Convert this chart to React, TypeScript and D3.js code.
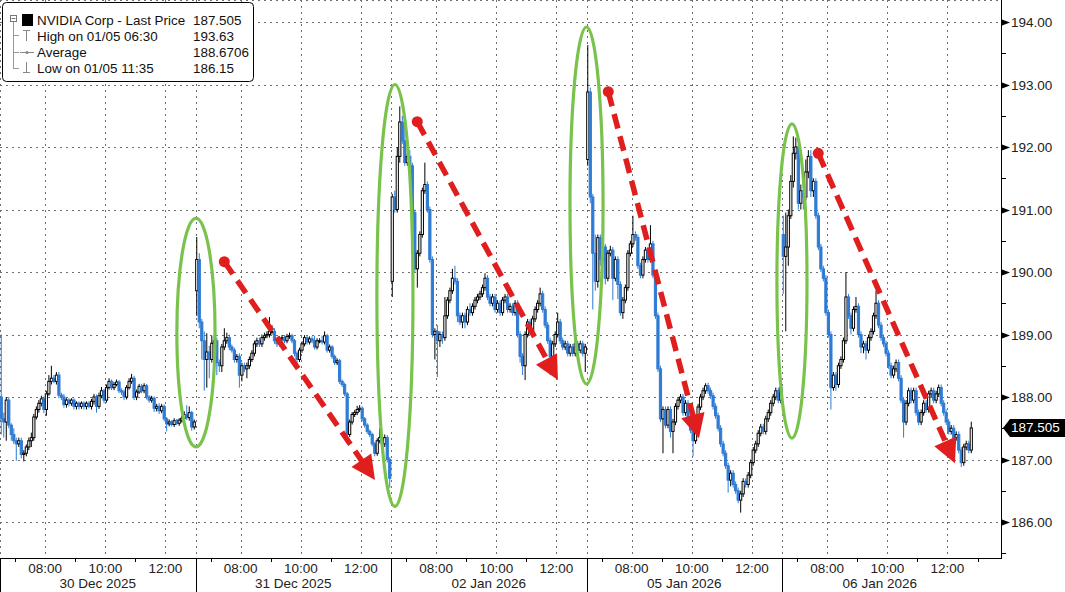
import React from "react";
import * as d3 from "d3";

// ---------- data ----------
const dayLabels = ["30 Dec 2025", "31 Dec 2025", "02 Jan 2026", "05 Jan 2026", "06 Jan 2026"];
const hourLabels = ["08:00", "10:00", "12:00"];
const hourOffsets = [1.5, 3.5, 5.5]; // hours after 06:30 open
const minorTickOffsets = [0.5, 2.5, 4.5];
const yTicks = [186, 187, 188, 189, 190, 191, 192, 193, 194];
const yMinorTicks = [185.5, 186.5, 187.5, 188.5, 189.5, 190.5, 191.5, 192.5, 193.5];
const sessionHours = 6.5;
const dayOpens = [188.0, 189.7, 189.85, 191.8, 190.6];

// 5-minute bars: [close, upper wick, lower wick]
const dec30: [number, number, number][] = [
  [187.65, 1.0, 0.25], [187.6, 0.1, 0.25], [187.95, 0.05, 0.3], [187.55, 0.05, 0.05], [187.4, 0.03, 0.1],
  [187.3, 0.1, 0.05], [187.25, 0.05, 0.27], [187.3, 0.05, 0.05], [187.08, 0.05, 0.06], [187.1, 0.05, 0.11],
  [187.2, 0.04, 0.05], [187.3, 0.05, 0.05], [187.35, 0.08, 0.1], [187.68, 0.05, 0.05], [187.8, 0.05, 0.04],
  [187.9, 0.05, 0.05], [187.97, 0.05, 0.05], [187.8, 0.04, 0.06], [188.05, 0.05, 0.1], [188.25, 0.1, 0.03],
  [188.3, 0.2, 0.05], [188.25, 0.05, 0.03], [188.35, 0.05, 0.05], [188.03, 0.05, 0.05], [188.0, 0.04, 0.05],
  [187.88, 0.05, 0.05], [187.95, 0.03, 0.05], [187.9, 0.03, 0.05], [187.95, 0.03, 0.04], [187.85, 0.03, 0.05],
  [187.9, 0.03, 0.05], [187.85, 0.03, 0.05], [187.9, 0.03, 0.04], [187.85, 0.03, 0.05], [187.9, 0.03, 0.05],
  [187.85, 0.03, 0.03], [187.93, 0.04, 0.05], [188.0, 0.05, 0.05], [187.85, 0.04, 0.1], [188.02, 0.05, 0.04],
  [188.1, 0.06, 0.04], [187.95, 0.03, 0.05], [188.15, 0.05, 0.04], [188.25, 0.05, 0.03], [188.15, 0.03, 0.04],
  [188.2, 0.04, 0.04], [188.24, 0.04, 0.03], [188.1, 0.03, 0.04], [188.08, 0.04, 0.05], [188.0, 0.04, 0.05],
  [188.15, 0.04, 0.04], [188.25, 0.05, 0.03], [188.3, 0.07, 0.04], [188.0, 0.04, 0.05], [188.08, 0.04, 0.05],
  [188.17, 0.04, 0.03], [188.1, 0.04, 0.04], [188.18, 0.04, 0.04], [188.0, 0.03, 0.04], [187.95, 0.03, 0.04],
  [187.98, 0.04, 0.04], [187.82, 0.03, 0.06], [187.85, 0.04, 0.05], [187.78, 0.05, 0.05], [187.85, 0.04, 0.04],
  [187.65, 0.03, 0.04], [187.57, 0.03, 0.12], [187.6, 0.04, 0.04], [187.56, 0.03, 0.03], [187.62, 0.04, 0.04],
  [187.58, 0.03, 0.03], [187.63, 0.03, 0.04], [187.66, 0.04, 0.04], [187.72, 0.05, 0.04], [187.67, 0.15, 0.04],
  [187.75, 0.1, 0.05], [187.52, 0.03, 0.06], [187.6, 0.04, 0.04],
];
const dec31: [number, number, number][] = [
  [190.2, 0.36, 0.4], [189.2, 0.1, 0.1], [188.9, 0.05, 0.3], [188.6, 0.15, 0.5], [188.72, 0.3, 0.45],
  [188.6, 0.1, 0.3], [188.86, 0.12, 0.05], [188.9, 0.1, 0.1], [188.55, 0.05, 0.2], [188.5, 0.05, 0.1],
  [188.8, 0.05, 0.1], [188.9, 0.2, 0.05], [188.95, 0.08, 0.05], [188.8, 0.05, 0.05], [188.75, 0.04, 0.04],
  [188.6, 0.04, 0.05], [188.65, 0.04, 0.05], [188.35, 0.05, 0.2], [188.5, 0.05, 0.1], [188.45, 0.05, 0.05],
  [188.5, 0.05, 0.15], [188.6, 0.05, 0.05], [188.7, 0.05, 0.04], [188.85, 0.05, 0.05], [188.9, 0.05, 0.05],
  [188.85, 0.05, 0.05], [188.95, 0.05, 0.05], [188.98, 0.05, 0.05], [189.0, 0.05, 0.04], [189.05, 0.23, 0.05],
  [189.05, 0.1, 0.05], [188.9, 0.05, 0.05], [188.85, 0.04, 0.05], [188.93, 0.04, 0.04], [188.95, 0.04, 0.04],
  [188.9, 0.04, 0.04], [188.97, 0.04, 0.04], [188.98, 0.05, 0.04], [188.9, 0.03, 0.04], [188.7, 0.03, 0.05],
  [188.6, 0.03, 0.1], [188.75, 0.04, 0.04], [188.85, 0.04, 0.04], [188.95, 0.04, 0.04], [188.88, 0.04, 0.04],
  [188.93, 0.04, 0.04], [188.9, 0.04, 0.04], [188.8, 0.08, 0.04], [188.9, 0.04, 0.04], [188.9, 0.04, 0.04],
  [188.88, 0.08, 0.04], [188.98, 0.07, 0.04], [188.75, 0.03, 0.04], [188.8, 0.04, 0.04], [188.65, 0.03, 0.04],
  [188.55, 0.03, 0.04], [188.58, 0.04, 0.04], [188.25, 0.03, 0.04], [188.2, 0.03, 0.04], [188.05, 0.03, 0.04],
  [187.4, 0.03, 0.06], [187.6, 0.04, 0.04], [187.72, 0.04, 0.04], [187.75, 0.04, 0.04], [187.8, 0.06, 0.04],
  [187.82, 0.05, 0.04], [187.65, 0.03, 0.04], [187.55, 0.03, 0.04], [187.45, 0.03, 0.04], [187.4, 0.03, 0.04],
  [187.25, 0.03, 0.04], [187.1, 0.03, 0.05], [187.3, 0.04, 0.04], [187.35, 0.15, 0.04], [187.25, 0.04, 0.04],
  [187.35, 0.05, 0.05], [187.0, 0.04, 0.05], [186.7, 0.04, 0.15],
];
const jan02: [number, number, number][] = [
  [191.2, 0.05, 0.25], [191.0, 0.1, 0.05], [191.85, 0.15, 0.05], [192.4, 0.25, 0.1], [192.1, 0.1, 0.05],
  [191.75, 0.3, 0.05], [191.85, 0.05, 0.05], [191.7, 0.1, 0.05], [190.95, 0.05, 0.05], [190.05, 0.05, 0.05],
  [190.3, 0.05, 0.3], [190.6, 0.05, 0.05], [191.3, 0.05, 0.05], [191.4, 0.35, 0.05], [191.0, 0.05, 0.05],
  [190.2, 0.05, 0.05], [189.0, 0.05, 0.05], [189.05, 0.05, 0.4], [188.9, 0.1, 0.58], [189.0, 0.05, 0.1],
  [188.95, 0.05, 0.1], [189.3, 0.3, 0.05], [189.55, 0.05, 0.05], [189.7, 0.05, 0.05], [189.9, 0.15, 0.05],
  [189.85, 0.2, 0.05], [189.3, 0.05, 0.1], [189.2, 0.05, 0.05], [189.3, 0.05, 0.1], [189.2, 0.05, 0.1],
  [189.4, 0.05, 0.05], [189.35, 0.1, 0.05], [189.45, 0.05, 0.05], [189.55, 0.05, 0.05], [189.6, 0.05, 0.05],
  [189.65, 0.05, 0.05], [189.75, 0.05, 0.05], [189.9, 0.08, 0.05], [189.6, 0.05, 0.05], [189.5, 0.05, 0.05],
  [189.6, 0.05, 0.05], [189.4, 0.05, 0.05], [189.5, 0.05, 0.05], [189.35, 0.05, 0.05], [189.55, 0.05, 0.05],
  [189.6, 0.05, 0.05], [189.4, 0.05, 0.05], [189.45, 0.05, 0.05], [189.35, 0.05, 0.05], [189.5, 0.05, 0.05],
  [189.0, 0.05, 0.05], [188.65, 0.05, 0.1], [188.5, 0.05, 0.15], [189.0, 0.05, 0.23], [189.2, 0.05, 0.05],
  [189.05, 0.05, 0.05], [189.25, 0.05, 0.05], [189.4, 0.05, 0.05], [189.5, 0.05, 0.05], [189.65, 0.1, 0.05],
  [189.4, 0.05, 0.05], [189.15, 0.05, 0.05], [188.9, 0.05, 0.05], [188.65, 0.05, 0.3], [188.85, 0.05, 0.05],
  [189.0, 0.05, 0.05], [189.2, 0.15, 0.05], [188.9, 0.05, 0.05], [188.8, 0.05, 0.05], [188.85, 0.05, 0.05],
  [188.7, 0.05, 0.05], [188.8, 0.05, 0.05], [188.7, 0.05, 0.05], [188.85, 0.05, 0.05], [188.75, 0.05, 0.05],
  [188.85, 0.05, 0.05], [188.7, 0.05, 0.05], [188.8, 0.05, 0.3],
];
const jan05: [number, number, number][] = [
  [192.88, 0.75, 0.1], [191.2, 0.07, 0.1], [190.3, 0.05, 0.9], [189.85, 0.3, 0.15], [190.55, 0.05, 0.1],
  [190.2, 0.05, 0.1], [190.4, 0.1, 0.05], [189.9, 0.05, 0.1], [190.3, 0.05, 0.05], [190.35, 0.07, 0.05],
  [189.9, 0.05, 0.35], [190.2, 0.05, 0.05], [189.8, 0.05, 0.23], [189.35, 0.05, 0.05], [189.55, 0.05, 0.1],
  [189.75, 0.05, 0.05], [190.3, 0.05, 0.05], [190.45, 0.05, 0.05], [190.6, 0.3, 0.05], [190.55, 0.05, 0.05],
  [190.1, 0.05, 0.05], [189.95, 0.05, 0.05], [190.2, 0.05, 0.05], [190.35, 0.05, 0.05], [190.2, 0.05, 0.05],
  [190.45, 0.3, 0.05], [189.95, 0.05, 0.05], [189.3, 0.05, 0.05], [188.45, 0.05, 0.05], [187.65, 0.05, 0.05],
  [187.8, 0.05, 0.55], [187.55, 0.05, 0.05], [187.8, 0.05, 0.05], [187.45, 0.05, 0.1], [187.6, 0.05, 0.35],
  [187.85, 0.05, 0.05], [187.95, 0.05, 0.05], [188.0, 0.05, 0.05], [187.75, 0.05, 0.05], [187.9, 0.05, 0.05],
  [187.65, 0.05, 0.05], [187.47, 0.05, 0.05], [187.3, 0.05, 0.25], [187.6, 0.05, 0.05], [187.84, 0.05, 0.05],
  [188.0, 0.05, 0.05], [188.1, 0.05, 0.05], [188.18, 0.04, 0.05], [188.1, 0.05, 0.05], [188.02, 0.05, 0.05],
  [187.85, 0.05, 0.05], [187.7, 0.05, 0.05], [187.5, 0.05, 0.05], [187.25, 0.05, 0.05], [187.1, 0.05, 0.05],
  [186.9, 0.05, 0.05], [186.67, 0.05, 0.2], [186.78, 0.05, 0.1], [186.6, 0.05, 0.05], [186.5, 0.05, 0.05],
  [186.35, 0.05, 0.05], [186.45, 0.05, 0.2], [186.65, 0.05, 0.05], [186.6, 0.05, 0.05], [186.75, 0.05, 0.05],
  [186.95, 0.05, 0.05], [187.15, 0.05, 0.05], [187.25, 0.05, 0.05], [187.42, 0.05, 0.05], [187.52, 0.05, 0.05],
  [187.45, 0.05, 0.05], [187.65, 0.05, 0.05], [187.75, 0.05, 0.05], [187.9, 0.05, 0.05], [188.0, 0.05, 0.05],
  [188.1, 0.05, 0.05], [187.95, 0.05, 0.05], [188.15, 0.1, 0.05],
];
const jan06: [number, number, number][] = [
  [190.25, 0.3, 0.6], [190.4, 0.55, 1.2], [190.9, 0.1, 0.3], [191.45, 0.1, 0.05], [191.9, 0.27, 0.1],
  [192.0, 0.15, 0.1], [191.1, 0.05, 0.1], [191.3, 0.1, 0.1], [191.2, 0.1, 0.2], [191.6, 0.2, 0.05],
  [191.85, 0.1, 0.1], [191.3, 0.1, 0.1], [191.45, 0.05, 0.1], [190.9, 0.05, 0.05], [190.4, 0.05, 0.05],
  [190.05, 0.05, 0.05], [189.9, 0.05, 0.05], [189.35, 0.05, 0.05], [189.0, 0.05, 0.05], [188.15, 0.05, 0.35],
  [188.35, 0.05, 0.05], [188.2, 0.05, 0.1], [188.5, 0.05, 0.05], [188.6, 0.05, 0.05], [188.9, 0.05, 0.05],
  [189.6, 0.4, 0.05], [189.3, 0.05, 0.05], [189.1, 0.05, 0.1], [189.4, 0.05, 0.05], [189.45, 0.15, 0.05],
  [189.0, 0.05, 0.05], [188.8, 0.05, 0.1], [188.85, 0.05, 0.1], [188.75, 0.05, 0.15], [188.95, 0.05, 0.05],
  [189.05, 0.05, 0.05], [189.3, 0.05, 0.05], [189.5, 0.2, 0.05], [189.15, 0.05, 0.05], [188.95, 0.05, 0.05],
  [188.85, 0.05, 0.05], [188.7, 0.05, 0.05], [188.5, 0.05, 0.05], [188.35, 0.05, 0.05], [188.45, 0.05, 0.05],
  [188.55, 0.05, 0.05], [188.3, 0.05, 0.05], [187.95, 0.05, 0.05], [187.6, 0.05, 0.25], [187.9, 0.05, 0.05],
  [188.1, 0.05, 0.05], [187.95, 0.05, 0.05], [188.1, 0.05, 0.05], [187.75, 0.05, 0.05], [187.6, 0.05, 0.05],
  [187.75, 0.05, 0.05], [187.9, 0.05, 0.05], [187.8, 0.05, 0.05], [188.05, 0.05, 0.05], [188.1, 0.05, 0.05],
  [187.95, 0.05, 0.05], [188.05, 0.05, 0.05], [188.15, 0.05, 0.05], [187.9, 0.05, 0.05], [187.75, 0.05, 0.05],
  [187.6, 0.05, 0.05], [187.45, 0.05, 0.05], [187.5, 0.05, 0.05], [187.35, 0.05, 0.05], [187.4, 0.05, 0.05],
  [187.15, 0.05, 0.05], [186.95, 0.05, 0.07], [187.2, 0.05, 0.05], [187.25, 0.05, 0.05], [187.15, 0.05, 0.05],
  [187.505, 0.1, 0.05],
];
const days = [dec30, dec31, jan02, jan05, jan06];

const legendNames = ["NVIDIA Corp - Last Price", "High on 01/05 06:30", "Average", "Low on 01/05 11:35"];
const legendValues = ["187.505", "193.63", "188.6706", "186.15"];
const lastPrice = 187.505;

// annotations in data space: hour-of-chart bounds and price bounds
const ellipseHours = [[5.88, 7.15], [12.53, 13.73], [18.95, 20.05], [25.83, 26.83]];
const ellipsePrices = [[187.2, 190.86], [186.25, 193.0], [188.21, 193.92], [187.34, 192.37]];
const arrowStarts = [[7.457, 190.165], [13.873, 192.405], [20.223, 192.885], [27.204, 191.899]];
const arrowEnds = [[12.467, 186.672], [18.55, 188.272], [23.238, 187.339], [31.749, 186.939]];

// ---------- layout ----------
const W = 1065;
const H = 592;
const plotRight = 1001;
const plotBottom = 558;
const FONT = "'Liberation Sans', Arial, sans-serif";
const BLUE = "#2f7bd4";
const RED = "#e01e1e";
const GREEN = "#79c24c";
const GRID = "#6f6f6f";

const x = d3.scaleLinear().domain([0, 33.28]).range([0, plotRight]);
const y = d3.scaleLinear().domain([186, 194]).range([522, 22]);

type Candle = { t: number; o: number; h: number; l: number; c: number };
const candles: Candle[] = [];
days.forEach((bars, d) => {
  let prev = dayOpens[d];
  bars.forEach(([c, uw, lw], i) => {
    const o = prev;
    candles.push({ t: d * sessionHours + (i + 0.5) / 12, o, c, h: Math.max(o, c) + uw, l: Math.min(o, c) - lw });
    prev = c;
  });
});

function Arrow({ s, e }: { s: number[]; e: number[] }) {
  const x1 = x(s[0]), y1 = y(s[1]), x2 = x(e[0]), y2 = y(e[1]);
  const dx = x2 - x1, dy = y2 - y1;
  const len = Math.hypot(dx, dy);
  const ux = dx / len, uy = dy / len;
  const headL = 24, headW = 12;
  const bx = x2 - ux * headL, by = y2 - uy * headL;
  const px = -uy, py = ux;
  const head = `M${x2},${y2} L${bx + px * headW},${by + py * headW} L${bx - px * headW},${by - py * headW} Z`;
  return (
    <g>
      <line x1={x1} y1={y1} x2={bx + ux * 2} y2={by + uy * 2} stroke={RED} strokeWidth={5.5} strokeDasharray="15 8" />
      <circle cx={x1} cy={y1} r={5.5} fill={RED} />
      <path d={head} fill={RED} />
    </g>
  );
}

export default function App() {
  const dayStarts = days.map((_, d) => d * sessionHours);
  const vGrid: number[] = [0];
  dayStarts.forEach((s, d) => {
    hourOffsets.forEach((h) => vGrid.push(s + h));
    if (d > 0) vGrid.push(s);
  });
  const minorX: number[] = [];
  dayStarts.forEach((s) => minorTickOffsets.forEach((h) => minorX.push(s + h)));
  minorX.push(dayStarts[4] + sessionHours);

  const lpY = y(lastPrice);

  return (
    <svg width={W} height={H} style={{ position: "absolute", left: 0, top: 0, display: "block", background: "#fff" }} fontFamily={FONT}>
      <rect x={0} y={0} width={W} height={H} fill="#fff" />
      {/* grid */}
      <line x1={0} x2={plotRight} y1={0.5} y2={0.5} stroke={GRID} strokeDasharray="2 4" />
      {yTicks.map((v) => (
        <line key={"hg" + v} x1={0} x2={plotRight} y1={Math.round(y(v)) + 0.5} y2={Math.round(y(v)) + 0.5} stroke={GRID} strokeDasharray="2 4" />
      ))}
      {vGrid.map((t, i) => (
        <line key={"vg" + i} x1={Math.round(x(t)) + 0.5} x2={Math.round(x(t)) + 0.5} y1={0} y2={plotBottom} stroke={GRID} strokeDasharray="2 4" />
      ))}

      {/* candles */}
      {candles.map((k, i) => {
        const cx = x(k.t);
        const up = k.c >= k.o;
        const top = y(Math.max(k.o, k.c));
        const bot = y(Math.min(k.o, k.c));
        const col = up ? "#000" : BLUE;
        return (
          <g key={"c" + i}>
            <line x1={cx} x2={cx} y1={y(k.h)} y2={y(k.l)} stroke={col} strokeWidth={1} />
            <rect x={cx - 1.1} y={top} width={2.2} height={Math.max(1, bot - top)} fill={up ? "#fff" : BLUE} stroke={col} strokeWidth={1} />
          </g>
        );
      })}

      {/* ellipses */}
      {ellipseHours.map((hh, i) => {
        const pp = ellipsePrices[i];
        const cx = (x(hh[0]) + x(hh[1])) / 2;
        const cy = (y(pp[0]) + y(pp[1])) / 2;
        return (
          <ellipse key={"el" + i} cx={cx} cy={cy} rx={(x(hh[1]) - x(hh[0])) / 2} ry={(y(pp[0]) - y(pp[1])) / 2}
            fill="none" stroke={GREEN} strokeWidth={3.2} />
        );
      })}

      {/* arrows */}
      {arrowStarts.map((s, i) => <Arrow key={"ar" + i} s={s} e={arrowEnds[i]} />)}

      {/* legend */}
      <g>
        <rect x={2.5} y={2.5} width={251} height={79} rx={4} fill="#fff" stroke="#000" strokeWidth={1} />
        <rect x={10.5} y={15.5} width={6} height={6} fill="#fff" stroke="#777" strokeWidth={1} />
        <line x1={11.5} x2={15.5} y1={18.5} y2={18.5} stroke="#777" />
        <line x1={13.5} x2={13.5} y1={22} y2={69} stroke="#999" />
        {[35, 52, 68].map((yy) => <line key={"br" + yy} x1={13.5} x2={19} y1={yy + 0.5} y2={yy + 0.5} stroke="#999" />)}
        <rect x={22} y={14} width={11} height={12} fill="#000" />
        <line x1={23} x2={30} y1={30.5} y2={30.5} stroke="#888" />
        <line x1={26.5} x2={26.5} y1={30} y2={41} stroke="#888" />
        <line x1={20} x2={34} y1={52.5} y2={52.5} stroke="#888" />
        <circle cx={27} cy={52.5} r={1.6} fill="#888" />
        <line x1={26.5} x2={26.5} y1={62} y2={72} stroke="#888" />
        <line x1={23} x2={30} y1={72.5} y2={72.5} stroke="#888" />
        {legendNames.map((n, i) => (
          <text key={"ln" + i} x={37} y={25 + i * 16} fontSize={13.4} fill="#111">{n}</text>
        ))}
        {legendValues.map((v, i) => (
          <text key={"lv" + i} x={193} y={25 + i * 16} fontSize={13.4} fill="#111">{v}</text>
        ))}
      </g>

      {/* y axis */}
      <line x1={plotRight + 0.5} x2={plotRight + 0.5} y1={0} y2={plotBottom} stroke="#000" />
      {yMinorTicks.map((v) => (
        <line key={"ym" + v} x1={plotRight} x2={plotRight + 5} y1={Math.round(y(v)) + 0.5} y2={Math.round(y(v)) + 0.5} stroke="#000" />
      ))}
      {yTicks.map((v) => {
        const yy = Math.round(y(v)) + 0.5;
        return (
          <g key={"yt" + v}>
            <path d={`M${plotRight + 1},${yy - 3} L${plotRight + 9},${yy} L${plotRight + 1},${yy + 3} Z`} fill="#000" />
            <text x={plotRight + 10} y={yy + 4.5} fontSize={13.5} fill="#222">{v.toFixed(2)}</text>
          </g>
        );
      })}
      {/* last price tag */}
      <path d={`M${plotRight + 2},${lpY} L${plotRight + 9},${lpY - 9} L${W},${lpY - 9} L${W},${lpY + 9} L${plotRight + 9},${lpY + 9} Z`} fill="#000" />
      <text x={plotRight + 10} y={lpY + 4.5} fontSize={13.5} fill="#fff">{lastPrice.toFixed(3)}</text>

      {/* x axis */}
      <line x1={0} x2={plotRight + 1} y1={plotBottom + 0.5} y2={plotBottom + 0.5} stroke="#000" />
      {dayStarts.map((s, d) => (
        <line key={"ds" + d} x1={Math.round(x(s)) + 0.5} x2={Math.round(x(s)) + 0.5} y1={plotBottom} y2={H} stroke="#000" />
      ))}
      {minorX.map((t, i) => (
        <line key={"mx" + i} x1={Math.round(x(t)) + 0.5} x2={Math.round(x(t)) + 0.5} y1={plotBottom} y2={plotBottom + 4} stroke="#000" />
      ))}
      {dayStarts.map((s, d) => (
        <g key={"xl" + d}>
          {hourLabels.map((lab, j) => (
            <text key={lab} x={x(s + hourOffsets[j])} y={572.5} fontSize={13.5} textAnchor="middle" fill="#222">{lab}</text>
          ))}
          <text x={x(s + sessionHours / 2)} y={587.5} fontSize={13.5} textAnchor="middle" fill="#222">{dayLabels[d]}</text>
        </g>
      ))}
    </svg>
  );
}
